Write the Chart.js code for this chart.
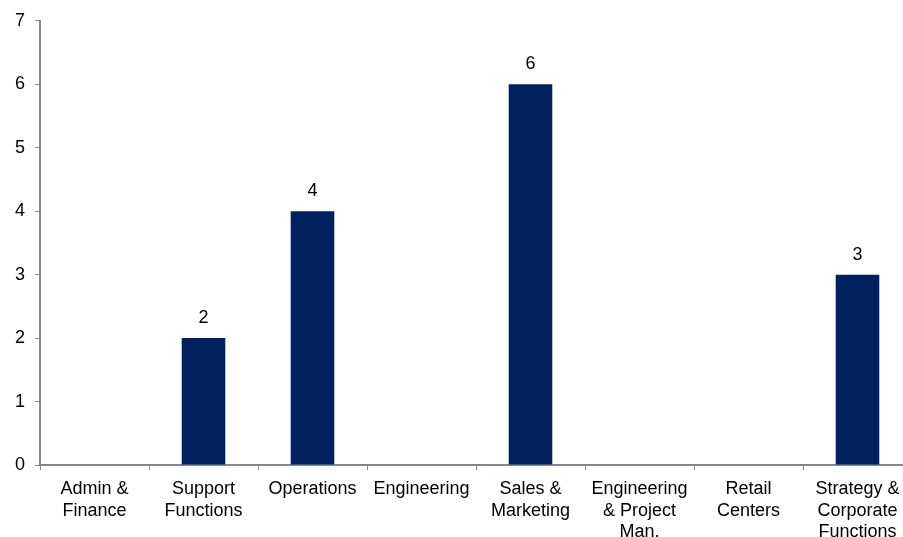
<!DOCTYPE html>
<html>
<head>
<meta charset="utf-8">
<script src="https://cdn.jsdelivr.net/npm/chart.js@4/dist/chart.umd.min.js"></script>
<style>
    html, body { margin: 0; padding: 0; background: #fff; overflow: hidden; }
    #wrap { width: 915px; height: 537px; }
</style>
</head>
<body>
<div id="wrap"><canvas id="headcountChart" width="915" height="537"></canvas></div>
<script>
// Categories and counts
const categories = [
    ['Admin &', 'Finance'],
    ['Support', 'Functions'],
    ['Operations'],
    ['Engineering'],
    ['Sales &', 'Marketing'],
    ['Engineering', '& Project', 'Man.'],
    ['Retail', 'Centers'],
    ['Strategy &', 'Corporate', 'Functions']
];
const counts = [0, 2, 4, 0, 6, 0, 0, 3];
const yTicks = [0, 1, 2, 3, 4, 5, 6, 7];

const FONT = "'Liberation Sans', Arial, Helvetica, sans-serif";

// Value labels above each non-zero bar
const valueLabels = {
    id: 'valueLabels',
    afterDatasetsDraw(chart) {
        const ctx = chart.ctx;
        const meta = chart.getDatasetMeta(0);
        ctx.save();
        ctx.font = '18px ' + FONT;
        ctx.fillStyle = '#000';
        ctx.textAlign = 'center';
        ctx.textBaseline = 'bottom';
        meta.data.forEach((bar, i) => {
            const v = counts[i];
            if (!v) return;
            ctx.fillText(String(v), bar.x, bar.y - 11);
        });
        ctx.restore();
    }
};

new Chart(document.getElementById('headcountChart'), {
    type: 'bar',
    data: {
        labels: categories,
        datasets: [{
            data: counts,
            backgroundColor: '#002060',
            borderWidth: 0,
            barPercentage: 0.4,
            categoryPercentage: 1
        }]
    },
    options: {
        responsive: false,
        animation: false,
        layout: { padding: { top: 20, right: 3 } },
        plugins: {
            legend: { display: false },
            tooltip: { enabled: false }
        },
        scales: {
            x: {
                afterFit: s => { s.height = 72; },
                grid: {
                    offset: true,
                    drawOnChartArea: false,
                    color: '#888',
                    tickLength: 5
                },
                border: { color: '#888', width: 2 },
                ticks: {
                    color: '#000',
                    padding: 9,
                    maxRotation: 0,
                    autoSkip: false,
                    font: { family: FONT, size: 18, lineHeight: 1.17 }
                }
            },
            y: {
                min: 0,
                max: 7,
                afterFit: s => { s.width = 40; },
                afterBuildTicks: s => { s.ticks = yTicks.map(v => ({ value: v })); },
                grid: {
                    drawOnChartArea: false,
                    color: '#888',
                    tickLength: 5
                },
                border: { color: '#888', width: 2 },
                ticks: {
                    color: '#000',
                    padding: 10,
                    font: { family: FONT, size: 18 }
                }
            }
        }
    },
    plugins: [valueLabels]
});
</script>
</body>
</html>
